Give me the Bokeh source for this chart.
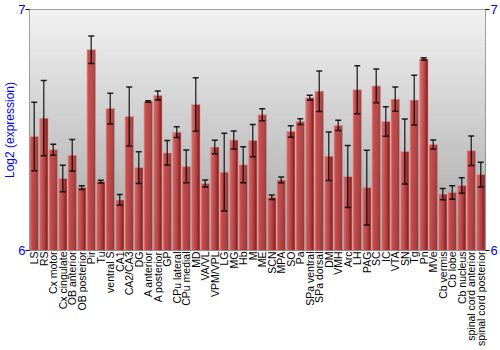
import numpy as np
from bokeh.plotting import figure
from bokeh.models import (ColumnDataSource, FactorRange, Range1d, LinearAxis,
                          FixedTicker, Whisker, TeeHead, BoxAnnotation)
from bokeh.transform import dodge
from bokeh.embed import file_html
from bokeh.resources import INLINE

regions = ["LS", "RS", "Cx motor", "Cx cingulate", "OB anterior", "OB posterior",
           "Pir", "Tu", "ventral S", "CA1", "CA2/CA3", "DG", "A anterior",
           "A posterior", "GP", "CPu lateral", "CPu medial", "MD", "VA/VL",
           "VPM/VPL", "LG", "MG", "Hb", "M", "ME", "SCN", "MPA", "SO", "Pa",
           "SPa ventral", "SPa dorsal", "DM", "VMH", "Arc", "LH", "PAG", "SC",
           "IC", "VTA", "SN", "Tg", "Pn", "MVe", "Cb vermis", "Cb lobe",
           "Cb nucleus", "spinal cord anterior", "spinal cord posterior"]

expression = [6.473, 6.549, 6.418, 6.299, 6.395, 6.261, 6.833, 6.286, 6.589,
              6.210, 6.556, 6.344, 6.618, 6.643, 6.405, 6.491, 6.349, 6.606,
              6.278, 6.429, 6.325, 6.458, 6.356, 6.456, 6.563, 6.221, 6.293,
              6.494, 6.535, 6.634, 6.661, 6.391, 6.519, 6.307, 6.667, 6.261,
              6.683, 6.535, 6.628, 6.411, 6.624, 6.795, 6.440, 6.234, 6.241,
              6.270, 6.414, 6.315]

error = [0.142, 0.156, 0.023, 0.055, 0.066, 0.008, 0.057, 0.006, 0.064, 0.022,
         0.122, 0.066, 0.003, 0.019, 0.051, 0.022, 0.068, 0.111, 0.015, 0.028,
         0.161, 0.038, 0.075, 0.067, 0.025, 0.009, 0.012, 0.024, 0.012, 0.010,
         0.084, 0.101, 0.021, 0.129, 0.100, 0.155, 0.070, 0.061, 0.050, 0.135,
         0.103, 0.005, 0.019, 0.023, 0.028, 0.032, 0.061, 0.051]

y_ticks = [6, 7]

upper = [v + e for v, e in zip(expression, error)]
lower = [v - e for v, e in zip(expression, error)]
source = ColumnDataSource(dict(regions=regions, expression=expression,
                               upper=upper, lower=lower))

FONT = "Liberation Sans"
BLUE = "#0000ff"

p = figure(width=500, height=350, x_range=FactorRange(*regions),
           y_range=Range1d(y_ticks[0], y_ticks[-1]),
           output_backend="svg", toolbar_location=None,
           min_border_left=27, min_border_right=14, min_border_top=9,
           min_border_bottom=100)

p.background_fill_color = None
p.border_fill_color = "white"
p.outline_line_color = "#808080"
p.outline_line_width = 1
p.xgrid.visible = False
p.ygrid.visible = False

# background vertical gradient
n = 60
bot = np.array([0xa4, 0xa4, 0xa4], dtype=float)
top = np.array([0xf2, 0xf2, 0xf2], dtype=float)
for k in range(n):
    t = (k + 0.5) / n
    c = bot + (top - bot) * t
    col = "#%02x%02x%02x" % tuple(int(round(v)) for v in c)
    y0 = y_ticks[0] + k / n
    y1 = y_ticks[0] + (k + 1) / n + 0.003
    p.add_layout(BoxAnnotation(bottom=y0, top=min(y1, y_ticks[-1]),
                               fill_color=col, fill_alpha=1.0,
                               line_alpha=0, level="underlay"))

# bars with horizontal gradient (strips)
shades = ["#d45c5c", "#cc4a4a", "#c43e3e", "#bc3535", "#b22f2f",
          "#a42929", "#942323", "#801d1d"]
bar_w = 0.9
ns = len(shades)
sw = bar_w / ns
for i, col in enumerate(shades):
    off = -bar_w / 2 + sw * (i + 0.5)
    p.vbar(x=dodge("regions", off, range=p.x_range), top="expression",
           bottom=y_ticks[0], width=sw * 1.02, source=source,
           fill_color=col, line_color=None)
p.vbar(x="regions", top="expression", bottom=y_ticks[0], width=bar_w,
       source=source, fill_color=None, line_color="#e8a0a0", line_alpha=0.6,
       line_width=1)

# error bars
w = Whisker(source=source, base="regions", upper="upper", lower="lower",
            line_color="black", line_alpha=0.72, line_width=1.5,
            level="annotation",
            upper_head=TeeHead(size=6, line_color="black", line_width=1.5,
                               line_alpha=0.85),
            lower_head=TeeHead(size=6, line_color="black", line_width=1.5,
                               line_alpha=0.85))
p.add_layout(w)

# y axes
def style_y(ax):
    ax.ticker = FixedTicker(ticks=y_ticks)
    ax.major_label_text_color = BLUE
    ax.major_label_text_font = FONT
    ax.major_label_text_font_size = "13px"
    ax.major_tick_out = 4
    ax.major_tick_in = 0
    ax.minor_tick_out = 0
    ax.minor_tick_in = 0
    ax.major_tick_line_color = "black"
    ax.axis_line_color = None
    ax.major_label_standoff = 1

yl = p.yaxis[0]
style_y(yl)
yl.major_label_standoff = 0
yl.axis_label = "Log2 (expression)"
yl.axis_label_text_color = BLUE
yl.axis_label_text_font = FONT
yl.axis_label_text_font_size = "12px"
yl.axis_label_text_font_style = "normal"
yl.axis_label_standoff = -2

yr = LinearAxis()
style_y(yr)
p.add_layout(yr, "right")

xa = p.xaxis[0]
xa.major_label_orientation = np.pi / 2
xa.major_label_text_font = FONT
xa.major_label_text_font_size = "10.5px"
xa.major_label_text_color = "black"
xa.axis_line_color = None
xa.major_tick_line_color = None
xa.major_tick_out = 0
xa.major_tick_in = 0
xa.major_label_standoff = 1

open("out.html", "w").write(file_html(p, INLINE))
